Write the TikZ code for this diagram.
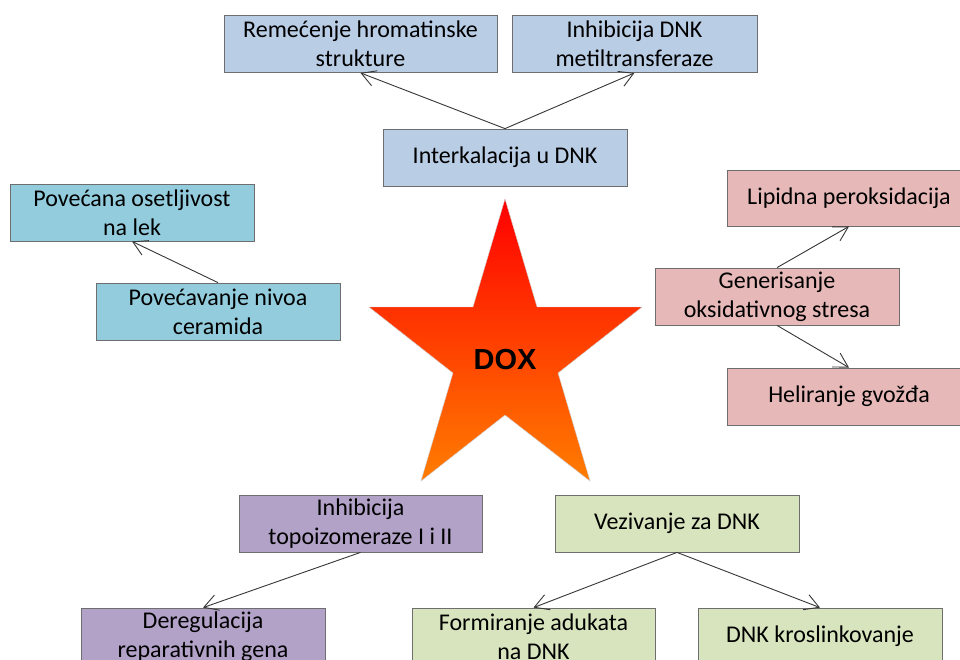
\documentclass[tikz,border=0pt]{standalone}
\usepackage{fontspec}
\setmainfont{Carlito}
\newfontfamily\doxfont{Liberation Sans}
\usetikzlibrary{arrows.meta}
\definecolor{bluebox}{RGB}{185,205,229}
\definecolor{cyanbox}{RGB}{147,205,221}
\definecolor{pinkbox}{RGB}{230,185,184}
\definecolor{purplebox}{RGB}{179,162,199}
\definecolor{greenbox}{RGB}{215,228,189}
\definecolor{boxline}{RGB}{110,110,110}
\definecolor{arrline}{RGB}{55,55,55}
\definecolor{startop}{RGB}{255,0,0}
\definecolor{starbot}{RGB}{255,125,0}
\begin{document}
\begin{tikzpicture}[x=1pt,y=-1pt,
  box/.style={draw=boxline, line width=0.8pt, inner sep=0pt, minimum height=57pt,
    minimum width=244pt, align=center, font=\fontsize{24}{29}\selectfont},
  arr/.style={draw=arrline, line width=0.9pt, -{Straight Barb[length=14pt,width=16pt]}}]
\useasboundingbox (0,0) rectangle (960,659);
\clip (0,0) rectangle (960,659);
\fill[white] (0,0) rectangle (960,659);

% star
\shade[top color=startop, bottom color=starbot, draw=gray!40, line width=0.4pt]
  (505,199) -- (537,307) -- (642,307) -- (558,373) -- (590,481) -- (505,415)
  -- (421,481) -- (453,373) -- (369,307) -- (473,307) -- cycle;
\node (dox) at (505,360) {\doxfont\bfseries\fontsize{29}{32}\selectfont DOX};

% blue
\node[box, fill=bluebox, minimum width=273pt] (A) at (360.5,44) {Reme\'{c}enje hromatinske\\strukture};
\node[box, fill=bluebox, minimum width=245pt] (B) at (634.5,44) {Inhibicija DNK\\metiltransferaze};
\node[box, fill=bluebox] (C) at (505,157.5) {Interkalacija u DNK};
% cyan
\node[box, fill=cyanbox] (D) at (132,212.5) {Pove\'{c}ana osetljivost\\na lek};
\node[box, fill=cyanbox] (E) at (218,311.5) {Pove\'{c}avanje nivoa\\ceramida};
% pink
\node[box, fill=pinkbox, minimum height=56pt] (F) at (849,198) {Lipidna peroksidacija};
\node[box, fill=pinkbox] (G) at (777,296.5) {Generisanje\\oksidativnog stresa};
\node[box, fill=pinkbox] (H) at (849,396.5) {Heliranje gvo\v{z}\dj a};
% purple
\node[box, fill=purplebox, minimum width=243pt] (I) at (360.5,523.5) {Inhibicija\\topoizomeraze I i II};
\node[box, fill=purplebox] (K) at (203,636.5) {Deregulacija\\reparativnih gena};
% green
\node[box, fill=greenbox] (J) at (677,523.5) {Vezivanje za DNK};
\node[box, fill=greenbox, minimum width=243pt] (L) at (533.5,636.5) {Formiranje adukata\\na DNK};
\node[box, fill=greenbox] (M) at (820,636.5) {DNK kroslinkovanje};

% arrows
\draw[arr] (C.north) -- (A.south);
\draw[arr] (C.north) -- (B.south);
\draw[arr] (E.north) -- (D.south);
\draw[arr] (G.north) -- (F.south);
\draw[arr] (G.south) -- (H.north);
\draw[arr] (I.south) -- (K.north);
\draw[arr] (J.south) -- (L.north);
\draw[arr] (J.south) -- (M.north);
\end{tikzpicture}
\end{document}
